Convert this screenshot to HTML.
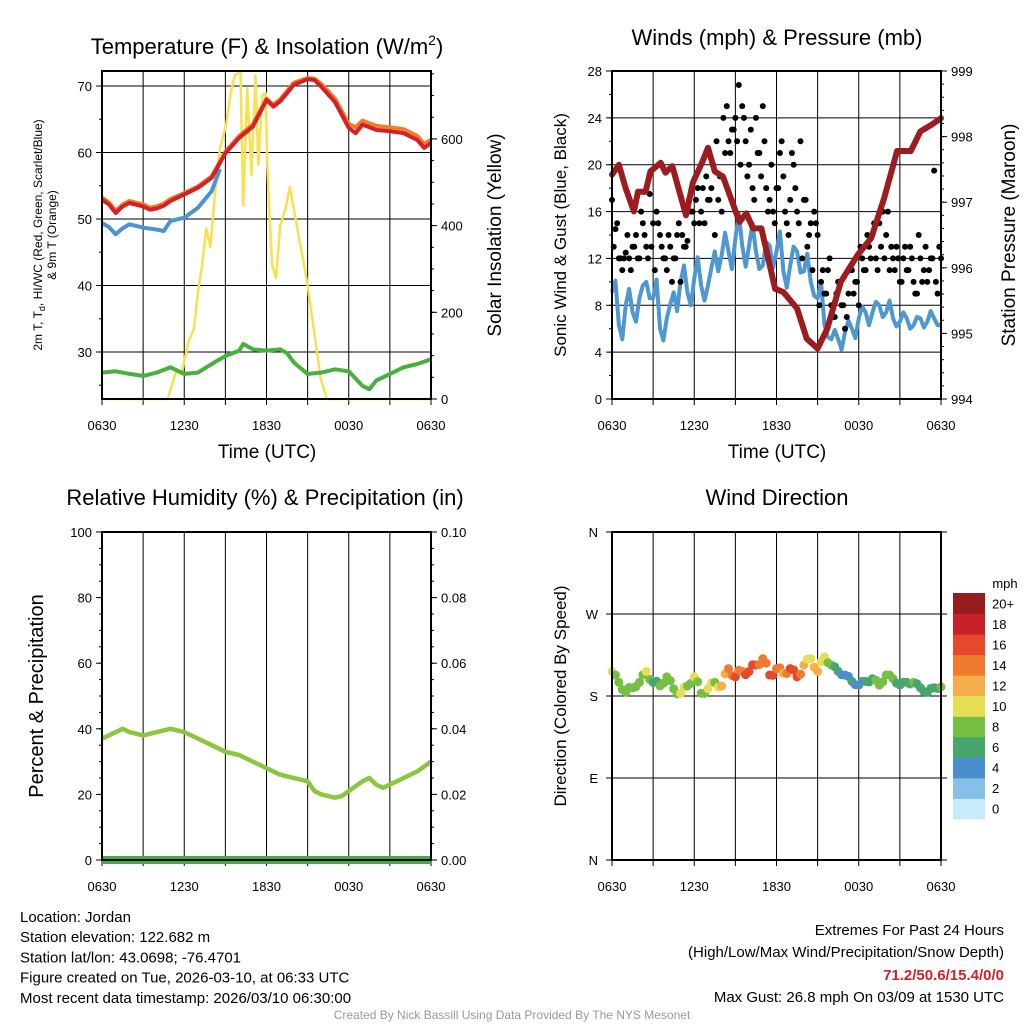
<!DOCTYPE html>
<html><head><meta charset="utf-8">
<style>
html,body{margin:0;padding:0;background:#fff;}
svg{display:block;font-family:"Liberation Sans",Arial,sans-serif;}
</style></head>
<body>
<svg id="fig" width="1024" height="1024" viewBox="0 0 1024 1024"></svg>
<script>
// ---------- DATA ----------
const xTickLabels = ["0630","1230","1830","0030","0630"];
const tempHours = [0,0.5,1,1.5,2,3,3.5,4,4.5,5,6,7,8,9,10,11,12,12.5,13,14,15,15.5,16,17,18,18.5,19,20,21,22,23,23.5,24];
const tempRed =   [52.9,52.2,50.9,51.9,52.4,51.9,51.4,51.6,52.0,52.7,53.7,54.7,56.2,59.9,62.2,63.9,67.9,66.9,67.7,70.2,71.0,70.9,69.9,67.6,63.7,62.9,64.2,63.4,63.2,62.9,61.9,60.7,61.4];
const tempOrange= [53.2,52.5,51.2,52.2,52.7,52.2,51.7,51.9,52.3,53.0,53.9,54.9,56.4,60.1,62.5,64.2,68.1,67.2,68.0,70.5,71.2,71.1,70.3,68.1,64.3,63.8,64.8,64.0,63.8,63.5,62.5,61.3,61.9];
const blueHours = [0,0.5,1,1.5,2,3,4,4.5,5,6,7,8,8.6];
const tempBlue =  [49.4,48.8,47.7,48.6,49.2,48.7,48.4,48.2,49.7,50.2,51.7,54.2,57.5];
const dewHours = [0,1,2,3,4,5,6,7,8,9,10,10.3,11,12,13,13.5,14,15,16,17,18,19,19.5,20,21,22,23,24];
const dewGreen = [26.9,27.1,26.7,26.4,26.9,27.7,26.7,26.9,28.2,29.4,30.2,31.2,30.4,30.2,30.4,29.8,28.4,26.7,26.9,27.4,27.1,24.9,24.4,25.7,26.7,27.7,28.2,28.9];
const solarHours = [0,4.8,5.4,5.8,6.3,6.7,7.0,7.3,7.6,7.9,8.25,8.6,9.05,9.4,9.7,10.1,10.3,10.6,10.9,11.2,11.4,11.7,11.95,12.05,12.4,12.7,13.0,13.4,13.7,15.0,15.95,16.4,24];
const solarVals  = [0,0,63,58,132,161,247,309,394,350,478,578,632,709,747,754,447,717,517,747,540,701,705,540,309,279,401,440,490,263,48,0,0];
const windScale = [0,4,8,12,16,20,24,28];
const pressScale = [994,995,996,997,998,999];
const pressHours = [0,0.5,1,1.6,1.9,2.45,2.8,3.55,3.9,4.4,5.4,5.9,6.6,7.0,7.5,8.1,9.3,9.8,10.3,10.9,11.9,12.5,13.5,14.2,15.0,15.7,16.7,17.9,18.9,19.85,20.8,21.8,22.5,23.3,24];
const pressVals  = [997.42,997.57,997.21,996.86,997.16,997.16,997.47,997.6,997.45,997.55,996.8,997.3,997.62,997.83,997.47,997.39,996.7,996.83,996.6,996.6,995.68,995.63,995.38,994.92,994.77,995.07,995.79,996.19,996.45,997.06,997.78,997.78,998.08,998.18,998.28];
const windHalfHourly = [9.1,6.3,8.0,7.4,8.6,10.0,8.6,6.0,6.9,9.1,10.0,9.1,10.3,9.7,9.7,12.6,12.3,12.6,13.7,13.1,13.1,12.6,11.4,13.1,12.6,10.9,11.4,12.6,10.9,10.0,8.6,6.3,5.1,5.1,5.7,6.0,6.9,7.4,7.4,8.0,7.4,6.9,6.6,6.9,6.3,6.9,6.6,6.9,6.3];
const windJitter = [1.0,-1.2,1.4,-0.8,1.1,-1.4,1.6,-1.0,1.2,-1.6,1.4,-1.1,1.8,-1.3,1.5,-1.7,1.9,-1.5,2.1,-1.8,1.9,-1.5,2.0,-1.9,1.7,-1.4,1.6,-1.8,1.5,-1.2,1.3,-1.0,0.8,-0.9,1.0,-0.8,1.0,-1.1,0.9,-1.0,1.0,-0.7,0.8,-0.9,0.7,-0.8,0.9,-0.6,0.7];
const gustA = [17,14.5,12,11,12.5,12,13,14,12,15,13,17.5,15,
  16,14,12,11,13,12,14,10,13,13.5,16,15,
  18,16,15,17,18,14,17,16,21,22,23,24,
  26.8,25,22,20,18,24,21,25,18,17,16,18,
  21,19,15,17,20,16,22,17,13,15,16,14,
  10,9,11,8,7,10,8,6,9,11,10,8,
  12,11,13,14,12,15,16,14,11,12,13,10,
  12,11,13,10,9,12,11,10,12,19.5,9,12];
const gustB = [13,15,12,12,14,11,13,12,16,14,12,13,
  11,15,13,12,14,10,12,15,14,13,17,16,
  17,15,18,19,17,20,22,19,24,25,21,23,
  22,20,24,19,23,17,21,19,22,16,20,15,
  18,22,16,14,21,18,15,12,17,14,11,15,
  8,11,9,12,7,9,10,8,7,11,9,10,
  13,11,14,12,15,11,13,12,16,13,11,12,
  10,13,11,12,9,14,10,13,11,12,10,13];
const rhHours = [0,1,1.5,2,3,4,5,6,7,8,9,10,11,12,13,14,15,15.5,16,17,17.5,18,19,19.5,20,20.5,21,22,23,24];
const rhVals  = [37,39,40,39,38,39,40,39,37,35,33,32,30,28,26,25,24,21,20,19,19.5,21,24,25,23,22,23,25,27,30];
const precipVals = [0,0];
const dirHalfHourly = [207,195,184,189,195,207,195,191,201,188,183,191,201,183,188,195,191,210,201,207,207,214,221,203,210,205,210,201,214,221,207,223,214,207,203,196,192,196,199,192,203,199,192,195,195,189,184,189,190];
const dirSpeed = [9,8,7,8,8,9,6,7,8,7,10,8,9,7,10,8,12,13,15,14,16,15,13,16,14,12,15,16,11,10,12,9,7,5,4,5,4,5,6,8,8,7,6,6,7,6,5,6,7];
const dirLabels = ["N","E","S","W","N"];
const speedBins = ["0","2","4","6","8","10","12","14","16","18","20+"];
const speedColors = ["#c8eaf9","#86bfe8","#4a8ecb","#46a66b","#74bf44","#e5df55","#f7ae4a","#ef7b31","#e4492b","#c72027","#981b1e"];

// ---------- HELPERS ----------
const NS="http://www.w3.org/2000/svg";
const svg=document.getElementById('fig');
function mk(tag,attrs,parent){const e=document.createElementNS(NS,tag);for(const k in attrs)e.setAttribute(k,attrs[k]);(parent||svg).appendChild(e);return e;}
function txt(s,x,y,size,anchor,parent,extra){const t=mk('text',Object.assign({x:x,y:y,'font-size':size,'text-anchor':anchor||'middle',fill:'#000'},extra||{}),parent);t.textContent=s;return t;}
function pathD(xs,ys,fx,fy){return xs.map((h,i)=>(i?'L':'M')+fx(h).toFixed(1)+','+fy(ys[i]).toFixed(1)).join(' ');}
function halfHours(n){const a=[];for(let i=0;i<n;i++)a.push(i*0.5);return a;}

function panelFrame(name,x0,y0,w,h,hGridYs){
  const g=mk('g',{});
  
  
  for(let i=1;i<8;i++){const x=x0+w*i/8;const l=mk('line',{x1:x,y1:y0,x2:x,y2:y0+h,stroke:'#000','stroke-width':1},g);
    
    }
  hGridYs.forEach(y=>{const l=mk('line',{x1:x0,y1:y,x2:x0+w,y2:y,stroke:'#000','stroke-width':1},g);
    
    });
  const xt=mk('g',{},g);
  
  
  xTickLabels.forEach((s,i)=>{txt(s,x0+w*i/4,y0+h+31,13,'middle',xt);});
  for(let i=0;i<=8;i++){const x=x0+w*i/8;mk('line',{x1:x,y1:y0+h,x2:x,y2:y0+h+6,stroke:'#000','stroke-width':1},g);}
  return g;
}
function frameBorder(g,x0,y0,w,h){const r=mk('rect',{x:x0,y:y0,width:w,height:h,fill:'none',stroke:'#000','stroke-width':2},g);
  
  }

// ---------- PANEL 1 ----------
(function(){
  const x0=102,y0=71,w=329,h=328;
  const fx=t=>x0+t*w/24;
  const fy=v=>352-(v-30)*6.65;
  const fs=v=>399-v*0.4335;
  const g=panelFrame('temperature-panel',x0,y0,w,h,[30,40,50,60,70].map(fy));
  const ax=mk('g',{},g);
  
  
  [30,40,50,60,70].forEach(v=>{txt(String(v),x0-10,fy(v)+5,13,'end',ax);mk('line',{x1:x0-6,y1:fy(v),x2:x0,y2:fy(v),stroke:'#000'},ax);});
  for(let v=25;v<=70;v+=5){mk('line',{x1:x0-3,y1:fy(v),x2:x0,y2:fy(v),stroke:'#000'},ax);}
  const ax2=mk('g',{},g);
  
  
  [0,200,400,600].forEach(v=>{txt(String(v),x0+w+10,fs(v)+5,13,'start',ax2);mk('line',{x1:x0+w,y1:fs(v),x2:x0+w+6,y2:fs(v),stroke:'#000'},ax2);});
  for(let v=0;v<=750;v+=50){mk('line',{x1:x0+w,y1:fs(v),x2:x0+w+3,y2:fs(v),stroke:'#000'},ax2);}
  const sol=mk('path',{d:pathD(solarHours,solarVals,fx,fs),fill:'none',stroke:'#f9e04f','stroke-width':2.5,'stroke-linejoin':'round'},g);
  
  
  const dw=mk('path',{d:pathD(dewHours,dewGreen,fx,fy),fill:'none',stroke:'#46b13d','stroke-width':4,'stroke-linejoin':'round'},g);
  
  
  const bl=mk('path',{d:pathD(blueHours,tempBlue,fx,fy),fill:'none',stroke:'#4b94cf','stroke-width':4,'stroke-linejoin':'round'},g);
  
  
  const or=mk('path',{d:pathD(tempHours,tempOrange,fx,fy),fill:'none',stroke:'#f47b2a','stroke-width':4,'stroke-linejoin':'round'},g);
  
  
  const rd=mk('path',{d:pathD(tempHours,tempRed,fx,fy),fill:'none',stroke:'#d42027','stroke-width':4,'stroke-linejoin':'round'},g);
  
  
  frameBorder(g,x0,y0,w,h);
  const t=txt('',267,54,22,'middle',g);t.innerHTML='Temperature (F) &amp; Insolation (W/m<tspan dy="-9" font-size="14">2</tspan><tspan dy="9">)</tspan>';
  
  
  const xl=txt('Time (UTC)',267,458,19,'middle',g);
  
  
  const yl=txt('',0,0,12,'middle',g,{transform:'translate(42,235) rotate(-90)'});
  yl.innerHTML='2m T, T<tspan dy="3" font-size="9">d</tspan><tspan dy="-3">, HI/WC (Red, Green, Scarlet/Blue)</tspan>';
  
  
  const yl2=txt('& 9m T (Orange)',0,0,12,'middle',g,{transform:'translate(56,235) rotate(-90)'});
  
  
  const yr=txt('Solar Insolation (Yellow)',0,0,19,'middle',g,{transform:'translate(501,235) rotate(-90)'});
  
  
})();

// ---------- PANEL 2 ----------
(function(){
  const x0=612,y0=71,w=329,h=328;
  const fx=t=>x0+t*w/24;
  const fw=v=>399-v*h/28;
  const fp=v=>399-(v-994)*h/5;
  const g=panelFrame('winds-panel',x0,y0,w,h,windScale.slice(1).map(fw));
  const ax=mk('g',{},g);
  
  
  windScale.forEach(v=>{txt(String(v),x0-10,fw(v)+5,13,'end',ax);mk('line',{x1:x0-6,y1:fw(v),x2:x0,y2:fw(v),stroke:'#000'},ax);});
  for(let v=0;v<=28;v+=2){mk('line',{x1:x0-3,y1:fw(v),x2:x0,y2:fw(v),stroke:'#000'},ax);}
  const ax2=mk('g',{},g);
  
  
  pressScale.forEach(v=>{txt(String(v),x0+w+10,fp(v)+5,13,'start',ax2);mk('line',{x1:x0+w,y1:fp(v),x2:x0+w+6,y2:fp(v),stroke:'#000'},ax2);});
  for(let v=994;v<=999;v+=0.2){mk('line',{x1:x0+w,y1:fp(v),x2:x0+w+3,y2:fp(v),stroke:'#000'},ax2);}
  const hh=halfHours(windHalfHourly.length);
  const wx=[],wy=[];
  hh.forEach((t,i)=>{wx.push(t);wy.push(windHalfHourly[i]);if(i<hh.length-1){wx.push(t+0.25);wy.push(windHalfHourly[i]+windJitter[i]);}});
  const wl=mk('path',{d:pathD(wx,wy,fx,fw),fill:'none',stroke:'#4e97d1','stroke-width':4,'stroke-linejoin':'round'},g);
  
  
  const dg=mk('g',{},g);
  
  
  gustA.forEach((v,i)=>{const c=mk('circle',{cx:fx(i*0.25),cy:fw(v),r:3,fill:'#000'},dg);
    
    });
  gustB.forEach((v,i)=>{const c=mk('circle',{cx:fx(0.125+i*0.25),cy:fw(v),r:3,fill:'#000'},dg);
    
    });
  const pl=mk('path',{d:pathD(pressHours,pressVals,fx,fp),fill:'none',stroke:'#9c1c1f','stroke-width':6,'stroke-linejoin':'round','stroke-linecap':'round'},g);
  
  
  frameBorder(g,x0,y0,w,h);
  const t=txt('Winds (mph) & Pressure (mb)',777,45,22,'middle',g);
  
  
  const xl=txt('Time (UTC)',777,458,19,'middle',g);
  
  
  const yl=txt('Sonic Wind & Gust (Blue, Black)',0,0,17,'middle',g,{transform:'translate(566,235) rotate(-90)'});
  
  
  const yr=txt('Station Pressure (Maroon)',0,0,19,'middle',g,{transform:'translate(1015,235) rotate(-90)'});
  
  
})();

// ---------- PANEL 3 ----------
(function(){
  const x0=102,y0=532,w=329,h=328;
  const fx=t=>x0+t*w/24;
  const fr=v=>860-v*h/100;
  const g=panelFrame('humidity-panel',x0,y0,w,h,[]);
  const ax=mk('g',{},g);
  
  
  [0,20,40,60,80,100].forEach(v=>{txt(String(v),x0-10,fr(v)+5,13,'end',ax);mk('line',{x1:x0-6,y1:fr(v),x2:x0,y2:fr(v),stroke:'#000'},ax);});
  for(let v=0;v<=100;v+=5){mk('line',{x1:x0-3,y1:fr(v),x2:x0,y2:fr(v),stroke:'#000'},ax);}
  const ax2=mk('g',{},g);
  
  
  ["0.00","0.02","0.04","0.06","0.08","0.10"].forEach((s,i)=>{const y=fr(i*20);txt(s,x0+w+10,y+5,13,'start',ax2);mk('line',{x1:x0+w,y1:y,x2:x0+w+6,y2:y,stroke:'#000'},ax2);});
  for(let v=0;v<=100;v+=5){mk('line',{x1:x0+w,y1:fr(v),x2:x0+w+3,y2:fr(v),stroke:'#000'},ax2);}
  const rl=mk('path',{d:pathD(rhHours,rhVals,fx,fr),fill:'none',stroke:'#8cc63f','stroke-width':4.5,'stroke-linejoin':'round'},g);
  
  
  const pl=mk('path',{d:pathD([0,24],precipVals.map(v=>v*1000),fx,fr),fill:'none',stroke:'#3fae49','stroke-width':8},g);
  
  
  frameBorder(g,x0,y0,w,h);
  const t=txt('Relative Humidity (%) & Precipitation (in)',265,505,22,'middle',g);
  
  
  const yl=txt('Percent & Precipitation',0,0,20,'middle',g,{transform:'translate(43,696) rotate(-90)'});
  
  
})();

// ---------- PANEL 4 ----------
(function(){
  const x0=612,y0=532,w=329,h=328;
  const fx=t=>x0+t*w/24;
  const fd=v=>860-v*h/360;
  const g=panelFrame('wind-direction-panel',x0,y0,w,h,[90,180,270].map(fd));
  const ax=mk('g',{},g);
  
  
  dirLabels.forEach((s,i)=>{const y=fd(i*90);txt(s,x0-14,y+5,13,'end',ax);mk('line',{x1:x0-6,y1:y,x2:x0,y2:y,stroke:'#000'},ax);mk('line',{x1:x0+w,y1:y,x2:x0+w+6,y2:y,stroke:'#000'},ax);});
  const binOf=v=>Math.min(10,Math.max(0,Math.floor((v+1)/2)));
  const dg=mk('g',{},g);
  
  
  const hh=halfHours(dirHalfHourly.length);
  hh.forEach((t,i)=>{
    const c=mk('circle',{cx:fx(t),cy:fd(dirHalfHourly[i]),r:4.5,fill:speedColors[binOf(dirSpeed[i])]},dg);
    
    
    if(i<hh.length-1){
      const d2=(dirHalfHourly[i]+dirHalfHourly[i+1])/2+windJitter[i]*2;
      const s2=(dirSpeed[i]+dirSpeed[i+1])/2;
      const c2=mk('circle',{cx:fx(t+0.25),cy:fd(d2),r:4.5,fill:speedColors[binOf(s2)]},dg);
      
      
    }
  });
  frameBorder(g,x0,y0,w,h);
  const t=txt('Wind Direction',777,505,22,'middle',g);
  
  
  const yl=txt('Direction (Colored By Speed)',0,0,17,'middle',g,{transform:'translate(566,696) rotate(-90)'});
  
  
  const cb=mk('g',{},g);
  
  
  const u=txt('mph',1005,588,13,'middle',cb);
  
  
  const bh=226/11;
  speedBins.forEach((s,i)=>{
    const k=10-i;const y=593+k*bh;
    const r=mk('rect',{x:953,y:y,width:32,height:bh+0.5,fill:speedColors[i]},cb);
    
    
    txt(speedBins[i],992,y+bh/2+5,13,'start',cb);
  });
})();

// ---------- FOOTER TEXT ----------
(function(){
  const g=mk('g',{});
  
  
  ["Location: Jordan","Station elevation: 122.682 m","Station lat/lon: 43.0698; -76.4701","Figure created on Tue, 2026-03-10, at 06:33 UTC","Most recent data timestamp: 2026/03/10 06:30:00"].forEach((s,i)=>{txt(s,20,922+i*20.2,15,'start',g);});
  const e=mk('g',{});
  
  
  txt('Extremes For Past 24 Hours',1004,935,15,'end',e);
  txt('(High/Low/Max Wind/Precipitation/Snow Depth)',1004,957,15,'end',e);
  txt('71.2/50.6/15.4/0/0',1004,980,15,'end',e,{fill:'#d42027','font-weight':'bold'});
  txt('Max Gust: 26.8 mph On 03/09 at 1530 UTC',1004,1002,15,'end',e);
  const c=txt('Created By Nick Bassill Using Data Provided By The NYS Mesonet',512,1019,12,'middle',svg,{fill:'#999'});
  
  
})();
</script>
</body></html>
